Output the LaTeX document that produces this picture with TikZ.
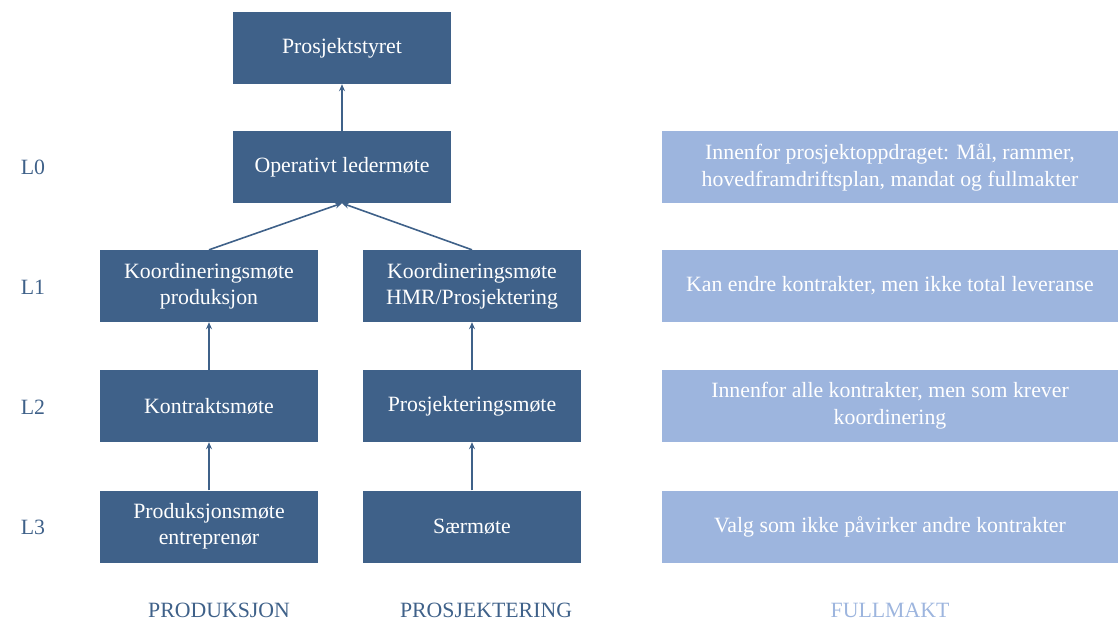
\documentclass[tikz,border=0pt]{standalone}
\usepackage{fontspec}
\setmainfont{Liberation Serif}
\usetikzlibrary{arrows.meta}
\definecolor{darkbox}{HTML}{3F6189}
\definecolor{lightbox}{HTML}{9DB5DE}
\begin{document}
\begin{tikzpicture}[x=1pt,y=-1pt,
  meeting/.style={fill=darkbox, text=white, minimum width=218pt, minimum height=72pt,
    inner sep=0pt, align=center, font=\fontsize{21.8}{26}\selectfont},
  mandate/.style={fill=lightbox, text=white, minimum width=456pt, minimum height=72pt,
    inner sep=0pt, align=center, font=\fontsize{21.8}{27}\selectfont},
  level/.style={text=darkbox, font=\fontsize{21.8}{26}\selectfont},
  column/.style={text=darkbox, font=\fontsize{21.8}{26}\selectfont},
  link/.style={draw=darkbox, line width=1.6pt, -{Stealth[length=7pt,width=6pt]}}]
\useasboundingbox (0,0) rectangle (1118,621);

% meetings
\node[meeting] (styre) at (342,48) {Prosjektstyret};
\node[meeting] (olm) at (342,167) {Operativt ledermøte};
\node[meeting] (kprod) at (209,286) {Koordineringsmøte\\produksjon};
\node[meeting] (khmr) at (472,286) {Koordineringsmøte\\HMR/Prosjektering};
\node[meeting] (kontr) at (209,406) {Kontraktsmøte};
\node[meeting] (prosj) at (472,406) {Prosjekteringsmøte};
\node[meeting] (pme) at (209,526.5) {Produksjonsmøte\\entreprenør};
\node[meeting] (saer) at (472,526.5) {Særmøte};

% mandates
\node[mandate] (m0) at (890,167) {Innenfor prosjektoppdraget: Mål, rammer,\\hovedframdriftsplan, mandat og fullmakter};
\node[mandate] (m1) at (890,286) {Kan endre kontrakter, men ikke total leveranse};
\node[mandate] (m2) at (890,406) {Innenfor alle kontrakter, men som krever\\koordinering};
\node[mandate] (m3) at (890,526.5) {Valg som ikke påvirker andre kontrakter};

% levels
\node[level] (l0) at (33,167) {L0};
\node[level] (l1) at (33,287) {L1};
\node[level] (l2) at (33,407) {L2};
\node[level] (l3) at (33,527) {L3};

% columns
\node[column] (cprod) at (219,610) {PRODUKSJON};
\node[column] (cprosj) at (486,610) {PROSJEKTERING};
\node[column, text=lightbox] (cfull) at (890,610) {FULLMAKT};

% reporting lines
\draw[link] (olm.north) -- (styre.south);
\draw[link] (kprod.north) -- (olm.south);
\draw[link] (khmr.north) -- (olm.south);
\draw[link] (kontr.north) -- (kprod.south);
\draw[link] (prosj.north) -- (khmr.south);
\draw[link] (pme.north) -- (kontr.south);
\draw[link] (saer.north) -- (prosj.south);
\end{tikzpicture}
\end{document}
